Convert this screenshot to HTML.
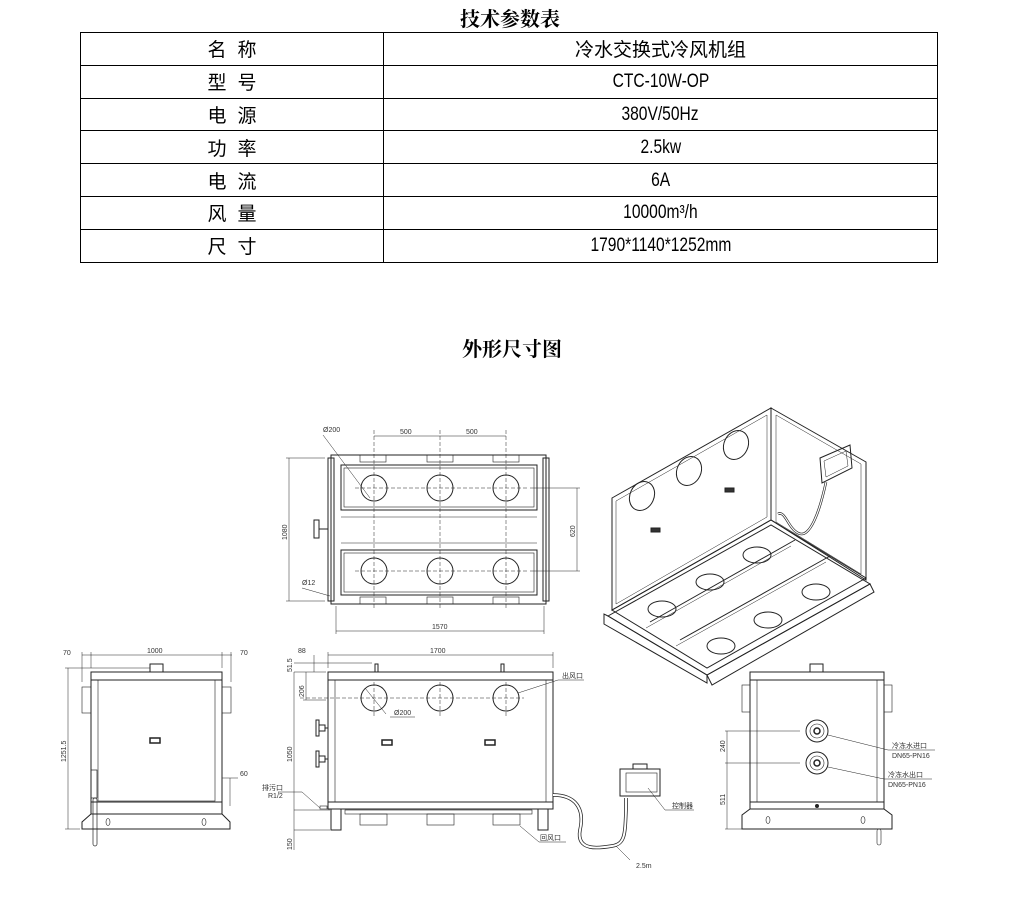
<!DOCTYPE html>
<html><head><meta charset="utf-8">
<style>
html,body{margin:0;padding:0;background:#fff;}
body{width:1024px;height:924px;position:relative;overflow:hidden;font-family:"Liberation Sans","Noto Sans CJK SC",sans-serif;}
.t{position:absolute;font-family:"Noto Serif CJK SC","Liberation Serif",serif;font-weight:bold;font-size:20px;color:#000;}
table{position:absolute;left:80px;top:32px;width:858px;border-collapse:collapse;}
td{border:1.5px solid #000;height:31.8px;padding:0;text-align:center;font-size:19px;font-family:"Liberation Sans","Noto Sans CJK SC",sans-serif;line-height:31px;}
td.l{width:291px;letter-spacing:11px;padding-left:11px;font-family:"Noto Sans CJK SC",sans-serif;}
td span{display:inline-block;transform:scaleX(0.82);}
svg{position:absolute;left:0;top:0;}
svg text{font-family:"Liberation Sans","Noto Sans CJK SC",sans-serif;font-size:7px;fill:#333;}
</style></head><body>
<div class="t" style="left:460px;top:3px;">技术参数表</div>
<table>
<tr><td class="l">名称</td><td style="font-family:'Noto Sans CJK SC',sans-serif">冷水交换式冷风机组</td></tr>
<tr><td class="l">型号</td><td><span>CTC-10W-OP</span></td></tr>
<tr><td class="l">电源</td><td><span>380V/50Hz</span></td></tr>
<tr><td class="l">功率</td><td><span>2.5kw</span></td></tr>
<tr><td class="l">电流</td><td><span>6A</span></td></tr>
<tr><td class="l">风量</td><td><span>10000m³/h</span></td></tr>
<tr><td class="l">尺寸</td><td><span>1790*1140*1252mm</span></td></tr>
</table>
<div class="t" style="left:462px;top:333px;">外形尺寸图</div>
<svg width="1024" height="924" viewBox="0 0 1024 924" fill="none" stroke="#222" stroke-width="1">
<!-- TOP VIEW -->
<g>
<rect x="331" y="455" width="215" height="149"/>
<rect x="328" y="458" width="6" height="143"/>
<rect x="543" y="458" width="6" height="143"/>
<rect x="341" y="465" width="196" height="45"/>
<rect x="344" y="468" width="190" height="39" stroke-width="0.6"/>
<rect x="341" y="550" width="196" height="45"/>
<rect x="344" y="553" width="190" height="39" stroke-width="0.6"/>
<line x1="341" y1="517" x2="537" y2="517" stroke-width="0.6"/>
<line x1="341" y1="543" x2="537" y2="543" stroke-width="0.6"/>
<rect x="360" y="455" width="26" height="7" stroke-width="0.6"/>
<rect x="427" y="455" width="26" height="7" stroke-width="0.6"/>
<rect x="493" y="455" width="26" height="7" stroke-width="0.6"/>
<rect x="360" y="597" width="26" height="7" stroke-width="0.6"/>
<rect x="427" y="597" width="26" height="7" stroke-width="0.6"/>
<rect x="493" y="597" width="26" height="7" stroke-width="0.6"/>
<circle cx="374" cy="488" r="13"/><circle cx="440" cy="488" r="13"/><circle cx="506" cy="488" r="13"/>
<circle cx="374" cy="571" r="13"/><circle cx="440" cy="571" r="13"/><circle cx="506" cy="571" r="13"/>
<g stroke-dasharray="4,2" stroke-width="0.5">
<line x1="355" y1="488" x2="528" y2="488"/><line x1="355" y1="571" x2="528" y2="571"/>
<line x1="374" y1="430" x2="374" y2="610"/><line x1="440" y1="430" x2="440" y2="610"/><line x1="506" y1="430" x2="506" y2="610"/>
</g>
<rect x="314" y="520" width="5" height="18"/><line x1="319" y1="529" x2="328" y2="529"/>
<g stroke-width="0.5">
<line x1="374" y1="436" x2="506" y2="436"/><text x="400" y="434" stroke="none">500</text><text x="466" y="434" stroke="none">500</text>
<line x1="286" y1="458" x2="325" y2="458"/><line x1="286" y1="601" x2="325" y2="601"/><line x1="289" y1="458" x2="289" y2="601"/>
<text x="287" y="540" stroke="none" transform="rotate(-90 287 540)">1080</text>
<line x1="530" y1="488" x2="580" y2="488"/><line x1="530" y1="571" x2="580" y2="571"/><line x1="577" y1="488" x2="577" y2="571"/>
<text x="575" y="537" stroke="none" transform="rotate(-90 575 537)">620</text>
<line x1="336" y1="606" x2="336" y2="634"/><line x1="544" y1="606" x2="544" y2="634"/><line x1="336" y1="631" x2="544" y2="631"/>
<text x="432" y="629" stroke="none">1570</text>
<line x1="323" y1="435" x2="370" y2="498"/><text x="323" y="432" stroke="none">Ø200</text>
<line x1="302" y1="588" x2="330" y2="596"/><text x="302" y="585" stroke="none">Ø12</text>
</g>
</g>
<!-- ISOMETRIC -->
<g stroke-width="1">
<polygon points="612,498 771,408 771,520 612,610"/>
<polygon points="616,501 767,415 767,517 616,604" stroke-width="0.5"/>
<polygon points="771,408 866,462 866,580 771,520"/>
<polygon points="776,415 861,464 861,574 776,522" stroke-width="0.5"/>
<polygon points="612,610 771,520 866,578 707,668"/>
<polygon points="608,616 771,525 870,584 707,675"/>
<polygon points="608,616 707,675 707,683 604,624 604,614" />
<polygon points="707,675 870,584 874,592 712,685"/>
<line x1="680" y1="640" x2="830" y2="556"/><line x1="676" y1="646" x2="826" y2="562" stroke-width="0.5"/>
<line x1="650" y1="622" x2="795" y2="540"/><line x1="646" y1="628" x2="791" y2="546" stroke-width="0.5"/>
<ellipse cx="642" cy="496" rx="12" ry="15" transform="rotate(25 642 496)"/>
<ellipse cx="689" cy="471" rx="12" ry="15" transform="rotate(25 689 471)"/>
<ellipse cx="736" cy="445" rx="12" ry="15" transform="rotate(25 736 445)"/>
<ellipse cx="662" cy="609" rx="14" ry="8"/><ellipse cx="710" cy="582" rx="14" ry="8"/><ellipse cx="757" cy="555" rx="14" ry="8"/>
<ellipse cx="721" cy="646" rx="14" ry="8"/><ellipse cx="768" cy="620" rx="14" ry="8"/><ellipse cx="816" cy="592" rx="14" ry="8"/>
<rect x="651" y="528" width="9" height="4" fill="#333"/><rect x="725" y="488" width="9" height="4" fill="#333"/>
<polygon points="820,458 850,445 852,468 822,483"/>
<polygon points="824,461 846,451 848,466 826,477" stroke-width="0.5"/>
<path d="M826,482 C820,510 810,540 798,533 C788,528 785,510 778,514" stroke-width="2.5"/>
<path d="M826,482 C820,510 810,540 798,533 C788,528 785,510 778,514" stroke="#fff" stroke-width="1.2"/>
</g>
<!-- LEFT SIDE VIEW -->
<g>
<rect x="91" y="672" width="131" height="8"/>
<rect x="91" y="680" width="131" height="122"/>
<rect x="98" y="680" width="117" height="121" stroke-width="0.6"/>
<rect x="150" y="664" width="13" height="8"/>
<rect x="82" y="687" width="9" height="26" stroke-width="0.6"/>
<rect x="222" y="687" width="9" height="26" stroke-width="0.6"/>
<rect x="91" y="802" width="131" height="12"/>
<polygon points="91,814 222,814 230,822 230,829 82,829 82,822"/>
<rect x="150" y="738" width="10" height="5" stroke-width="1.5"/>
<rect x="91" y="770" width="6" height="28" stroke-width="0.7"/>
<rect x="93" y="798" width="4" height="48" rx="2" stroke-width="0.7"/>
<ellipse cx="108" cy="822" rx="2" ry="3.5" stroke-width="0.6"/><ellipse cx="204" cy="822" rx="2" ry="3.5" stroke-width="0.6"/>
<g stroke-width="0.5">
<line x1="82" y1="655" x2="232" y2="655"/><line x1="82" y1="652" x2="82" y2="682"/><line x1="91" y1="652" x2="91" y2="668"/><line x1="222" y1="652" x2="222" y2="668"/><line x1="231" y1="652" x2="231" y2="682"/>
<text x="63" y="655" stroke="none">70</text><text x="147" y="653" stroke="none">1000</text><text x="240" y="655" stroke="none">70</text>
<line x1="68" y1="668" x2="68" y2="829"/><line x1="65" y1="668" x2="150" y2="668"/><line x1="65" y1="829" x2="80" y2="829"/>
<text x="66" y="762" stroke="none" transform="rotate(-90 66 762)">1251.5</text>
<line x1="222" y1="778" x2="238" y2="778"/><line x1="230" y1="778" x2="230" y2="806"/><text x="240" y="776" stroke="none">60</text>
</g>
</g>
<!-- FRONT VIEW -->
<g>
<rect x="328" y="672" width="225" height="8"/>
<rect x="328" y="680" width="225" height="122"/>
<rect x="335" y="680" width="211" height="122" stroke-width="0.6"/>
<rect x="328" y="802" width="225" height="7"/>
<rect x="375" y="664" width="3" height="8"/><rect x="501" y="664" width="3" height="8"/>
<rect x="331" y="809" width="10" height="21"/><rect x="538" y="809" width="10" height="21"/>
<rect x="345" y="810" width="187" height="4" stroke-width="0.6"/>
<rect x="360" y="814" width="27" height="11" stroke-width="0.6"/><rect x="427" y="814" width="27" height="11" stroke-width="0.6"/><rect x="493" y="814" width="27" height="11" stroke-width="0.6"/>
<circle cx="374" cy="698" r="13"/><circle cx="440" cy="698" r="13"/><circle cx="506" cy="698" r="13"/>
<g stroke-dasharray="4,2" stroke-width="0.5"><line x1="300" y1="698" x2="524" y2="698"/><line x1="374" y1="682" x2="374" y2="716"/><line x1="440" y1="682" x2="440" y2="716"/><line x1="506" y1="682" x2="506" y2="716"/></g>
<rect x="382" y="740" width="10" height="5" stroke-width="1.5"/><rect x="485" y="740" width="10" height="5" stroke-width="1.5"/>
<rect x="316" y="720" width="3" height="16"/><rect x="319" y="725" width="6" height="6"/><line x1="325" y1="728" x2="328" y2="728"/>
<rect x="316" y="751" width="3" height="16"/><rect x="319" y="756" width="6" height="6"/><line x1="325" y1="759" x2="328" y2="759"/>
<rect x="320" y="806" width="7" height="3" stroke-width="0.6"/>
<g stroke-width="0.5">
<line x1="328" y1="655" x2="553" y2="655"/><line x1="328" y1="652" x2="328" y2="668"/><line x1="553" y1="652" x2="553" y2="668"/><text x="430" y="653" stroke="none">1700</text>
<line x1="314" y1="655" x2="314" y2="672"/><text x="298" y="653" stroke="none">88</text>
<line x1="294" y1="663" x2="372" y2="663"/><line x1="294" y1="672" x2="326" y2="672"/>
<text x="292" y="672" stroke="none" transform="rotate(-90 292 672)">51.5</text>
<line x1="306" y1="672" x2="306" y2="700"/><line x1="303" y1="700" x2="326" y2="700"/><text x="304" y="697" stroke="none" transform="rotate(-90 304 697)">206</text>
<line x1="294" y1="672" x2="294" y2="850"/><line x1="294" y1="810" x2="330" y2="810"/><line x1="294" y1="830" x2="330" y2="830"/>
<text x="292" y="762" stroke="none" transform="rotate(-90 292 762)">1050</text>
<text x="292" y="850" stroke="none" transform="rotate(-90 292 850)">150</text>
<line x1="365" y1="688" x2="386" y2="714"/><text x="394" y="715" stroke="none">Ø200</text><line x1="390" y1="717" x2="415" y2="717"/>
<line x1="518" y1="693" x2="558" y2="680"/><line x1="558" y1="680" x2="584" y2="680"/><text x="562" y="678" stroke="none">出风口</text>
<line x1="520" y1="826" x2="539" y2="842"/><line x1="539" y1="842" x2="566" y2="842"/><text x="540" y="840" stroke="none">回风口</text>
<line x1="278" y1="792" x2="302" y2="792"/><line x1="302" y1="792" x2="320" y2="808"/>
<text x="262" y="790" stroke="none">排污口</text><text x="268" y="798" stroke="none">R1/2</text>
</g>
<path d="M553,795 C575,795 585,808 580,830 C576,852 600,848 612,846 C625,844 625,835 626,810 L626,798" stroke-width="3.5"/>
<path d="M553,795 C575,795 585,808 580,830 C576,852 600,848 612,846 C625,844 625,835 626,810 L626,798" stroke="#fff" stroke-width="2"/>
<rect x="620" y="769" width="40" height="27"/>
<rect x="626" y="773" width="31" height="19" stroke-width="0.6"/>
<path d="M633,769 V764 H647 V769"/>
<g stroke-width="0.5"><line x1="648" y1="788" x2="665" y2="810"/><line x1="665" y1="810" x2="694" y2="810"/><text x="672" y="808" stroke="none">控制器</text>
<line x1="616" y1="846" x2="630" y2="860"/><text x="636" y="868" stroke="none">2.5m</text></g>
</g>
<!-- RIGHT VIEW -->
<g>
<rect x="750" y="672" width="134" height="8"/>
<rect x="750" y="680" width="134" height="122"/>
<rect x="757" y="680" width="120" height="122" stroke-width="0.6"/>
<rect x="810" y="664" width="13" height="8"/>
<rect x="742" y="685" width="8" height="27" stroke-width="0.6"/><rect x="884" y="685" width="8" height="27" stroke-width="0.6"/>
<rect x="750" y="802" width="134" height="7"/>
<polygon points="750,809 884,809 892,815 892,829 742,829 742,815"/>
<rect x="877" y="829" width="4" height="16" rx="2" stroke-width="0.6"/>
<ellipse cx="768" cy="820" rx="2" ry="3.5" stroke-width="0.6"/><ellipse cx="863" cy="820" rx="2" ry="3.5" stroke-width="0.6"/>
<circle cx="817" cy="731" r="11"/><circle cx="817" cy="731" r="7" stroke-width="0.6"/><circle cx="817" cy="731" r="3" stroke-width="1.5"/>
<circle cx="817" cy="763" r="11"/><circle cx="817" cy="763" r="7" stroke-width="0.6"/><circle cx="817" cy="763" r="3" stroke-width="1.5"/>
<circle cx="817" cy="806" r="1.5" fill="#222"/>
<g stroke-width="0.5">
<line x1="725" y1="731" x2="800" y2="731"/><line x1="725" y1="763" x2="800" y2="763"/><line x1="727" y1="731" x2="727" y2="829"/><line x1="725" y1="829" x2="745" y2="829"/>
<text x="725" y="752" stroke="none" transform="rotate(-90 725 752)">240</text>
<text x="725" y="805" stroke="none" transform="rotate(-90 725 805)">511</text>
<line x1="828" y1="735" x2="888" y2="750"/><line x1="888" y1="750" x2="935" y2="750"/>
<text x="892" y="748" stroke="none">冷冻水进口</text><text x="892" y="758" stroke="none">DN65-PN16</text>
<line x1="828" y1="767" x2="884" y2="779"/><line x1="884" y1="779" x2="932" y2="779"/>
<text x="888" y="777" stroke="none">冷冻水出口</text><text x="888" y="787" stroke="none">DN65-PN16</text>
</g>
</g>
</svg>
</body></html>
